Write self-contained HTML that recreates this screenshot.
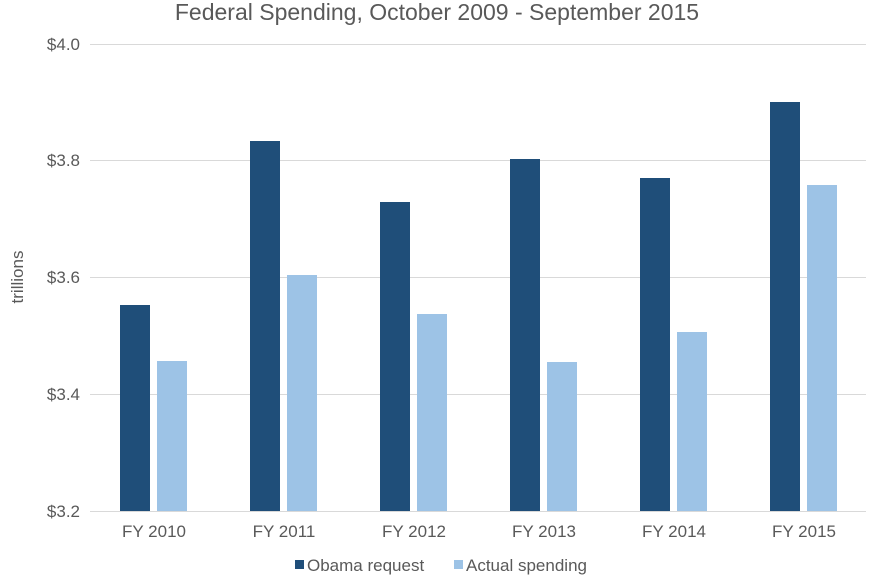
<!DOCTYPE html>
<html><head><meta charset="utf-8"><style>
body{margin:0;background:#fff;}
svg text{font-family:"Liberation Sans",Arial,sans-serif;fill:#595959;}
</style></head><body>
<svg width="896" height="577" xmlns="http://www.w3.org/2000/svg">
<rect width="896" height="577" fill="#fff"/>
<text x="437" y="20" font-size="23" text-anchor="middle">Federal Spending, October 2009 - September 2015</text>
<g stroke="#d9d9d9" stroke-width="1">
<line x1="90" x2="866" y1="44.5" y2="44.5"/>
<line x1="90" x2="866" y1="160.5" y2="160.5"/>
<line x1="90" x2="866" y1="277.5" y2="277.5"/>
<line x1="90" x2="866" y1="394.5" y2="394.5"/>
<line x1="90" x2="866" y1="511.5" y2="511.5"/>
</g>
<g font-size="17" text-anchor="end">
<text x="80" y="50">$4.0</text>
<text x="80" y="166">$3.8</text>
<text x="80" y="283">$3.6</text>
<text x="80" y="400">$3.4</text>
<text x="80" y="517">$3.2</text>
</g>
<text transform="translate(23,277) rotate(-90)" font-size="17" text-anchor="middle">trillions</text>
<g fill="#1f4e79">
<rect x="120" y="305" width="30" height="206"/>
<rect x="250" y="141" width="30" height="370"/>
<rect x="380" y="202" width="30" height="309"/>
<rect x="510" y="159" width="30" height="352"/>
<rect x="640" y="178" width="30" height="333"/>
<rect x="770" y="102" width="30" height="409"/>
</g>
<g fill="#9dc3e6">
<rect x="157" y="361" width="30" height="150"/>
<rect x="287" y="275" width="30" height="236"/>
<rect x="417" y="314" width="30" height="197"/>
<rect x="547" y="362" width="30" height="149"/>
<rect x="677" y="332" width="30" height="179"/>
<rect x="807" y="185" width="30" height="326"/>
</g>
<g font-size="17" text-anchor="middle">
<text x="154" y="537">FY 2010</text>
<text x="284" y="537">FY 2011</text>
<text x="414" y="537">FY 2012</text>
<text x="544" y="537">FY 2013</text>
<text x="674" y="537">FY 2014</text>
<text x="804" y="537">FY 2015</text>
</g>
<rect x="295" y="560" width="9" height="9" fill="#1f4e79"/>
<text x="307" y="571" font-size="17">Obama request</text>
<rect x="454" y="560" width="9" height="9" fill="#9dc3e6"/>
<text x="466" y="571" font-size="17">Actual spending</text>
</svg>
</body></html>
